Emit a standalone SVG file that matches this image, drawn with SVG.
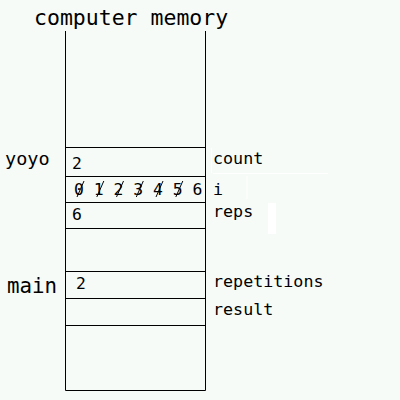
<svg xmlns="http://www.w3.org/2000/svg" width="400" height="400" viewBox="0 0 400 400">
<style>
.t{font-family:"DejaVu Sans Mono","Liberation Mono",monospace;fill:#000}
.s{font-size:16.4px}
.l{font-size:16.7px}
.ln{stroke:#000;stroke-width:1;fill:none}
.w{stroke:#fff;stroke-width:1;fill:none}
</style>
<rect x="0" y="0" width="400" height="400" fill="#f7fbf7"/>
<g id="artifacts">
<path class="w" d="M213 173.5H328M211.5 148V173M247 176V199"/>
<rect x="268" y="203" width="8" height="31" fill="#fff"/>
</g>
<text class="t" x="34" y="25" font-size="21.5">computer memory</text>
<g id="memory">
<path class="ln" d="M65.5 31V390.5H205.5V31"/>
<path class="ln" d="M65.5 147.5H205.5M65.5 176.5H205.5M65.5 202.5H205.5M65.5 228.5H205.5M65.5 271.5H205.5M65.5 298.5H205.5M65.5 325.5H205.5"/>
</g>
<g id="yoyo">
<text class="t" x="5" y="165" font-size="18.5">yoyo</text>
<text class="t s" x="72" y="168.5">2</text>
<text class="t s" x="74" y="195">0 1 2 3 4 5 6</text>
<path class="ln" stroke-width="1.3" d="M84 181L77 197M103.8 181L96.8 197M123.5 181L116.5 197M143.3 181L136.3 197M163 181L156 197M182.8 181L175.8 197"/>
<text class="t s" x="72" y="220">6</text>
<text class="t l" x="213" y="163.5">count</text>
<text class="t l" x="213" y="194.5">i</text>
<text class="t l" x="213" y="216.5">reps</text>
</g>
<g id="main">
<text class="t" x="7" y="293" font-size="20.8">main</text>
<text class="t s" x="76" y="288.5">2</text>
<text class="t l" x="213" y="287">repetitions</text>
<text class="t l" x="213" y="315">result</text>
</g>
</svg>
